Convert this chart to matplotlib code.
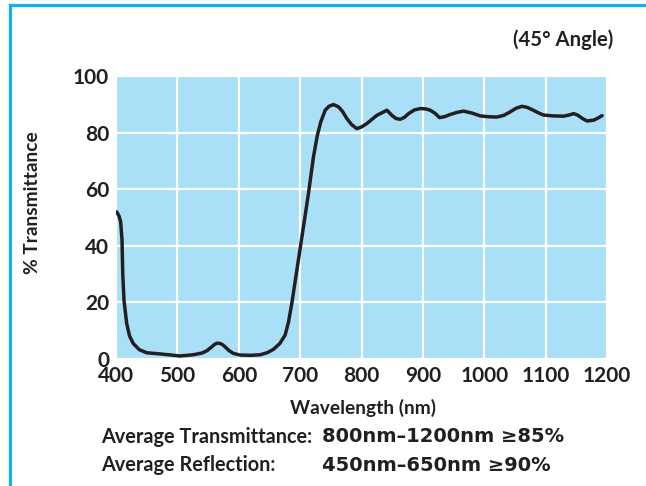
import numpy as np
import matplotlib
matplotlib.use("Agg")
import matplotlib.pyplot as plt
from matplotlib.lines import Line2D

plt.rcParams['font.family'] = ['Lato', 'DejaVu Sans']

# Данные кривой пропускания
wavelength = [401, 405, 407.6, 409.8, 411, 413, 417.4, 422, 428, 438, 450, 471.7, 490, 504,
              526, 540, 548, 556, 561.4, 565, 569.6, 574, 577.7, 584, 591, 602, 620, 634.8,
              646, 656.5, 667, 675.6, 681, 686.5, 693, 700, 707, 713.6, 721.7, 728, 733.7,
              740.8, 747, 754.4, 762.5, 769, 776, 784, 792.4, 800, 808.7, 825, 841.4, 849.5,
              856, 863, 870, 876.6, 886, 895.7, 904, 912, 920, 927, 935, 944.6, 955, 966.3,
              980, 993.5, 1007, 1020.7, 1032, 1042, 1052, 1061.5, 1070, 1080, 1088, 1096.7,
              1112, 1129, 1138, 1145.7, 1152, 1160, 1167.5, 1178.3, 1185, 1192]
transmittance = [52.0, 50.5, 48.5, 42, 30, 20.8, 12.6, 8.2, 5.5, 3.3, 2.2, 1.8, 1.4, 1.06,
                 1.5, 2.1, 2.9, 4.3, 5.3, 5.6, 5.5, 5.0, 4.3, 3.0, 2.0, 1.4, 1.3, 1.5,
                 2.2, 3.4, 5.5, 8.5, 13, 19.7, 29, 39, 49, 58.5, 71.4, 79, 83.8,
                 87.9, 89.3, 89.9, 89.1, 87.5, 85, 82.8, 81.4, 82.0, 83.2, 86.1, 87.9, 86.1,
                 85.0, 84.7, 85.4, 86.7, 88.0, 88.5, 88.4, 87.9, 86.8, 85.3, 85.6, 86.4, 87.1, 87.6,
                 86.9, 85.9, 85.6, 85.5, 86.1, 87.3, 88.6, 89.3, 88.9, 87.9, 87.0, 86.2,
                 85.9, 85.8, 86.2, 86.7, 86.2, 85.0, 84.1, 84.4, 85.1, 86.0]

x_ticks = [400, 500, 600, 700, 800, 900, 1000, 1100, 1200]
y_ticks = [0, 20, 40, 60, 80, 100]

txt_color = '#231f20'

fig = plt.figure(figsize=(6.46, 4.86), dpi=100)
ax = fig.add_axes([116 / 646, 1 - 359 / 486, 491 / 646, 283 / 486])
ax.set_facecolor('#aadff8')

ax.plot(wavelength, transmittance, color=txt_color, linewidth=2.5,
        solid_joinstyle='round', solid_capstyle='round')

ax.set_xlim(400, 1200)
ax.set_ylim(0, 100)
ax.set_xticks(x_ticks)
ax.set_yticks(y_ticks)
ax.grid(True, color='white', linewidth=1.6)
ax.set_axisbelow(True)
for s in ax.spines.values():
    s.set_visible(False)
ax.tick_params(length=0, labelsize=15, colors=txt_color)
ax.tick_params(axis='x', pad=5)
ax.tick_params(axis='y', pad=5)
for lbl in ax.get_xticklabels() + ax.get_yticklabels():
    lbl.set_fontweight('bold')

# подписи осей
fig.text(363 / 646, 1 - 408 / 486, 'Wavelength (nm)', ha='center', va='center',
         fontsize=13.8, fontweight='bold', color=txt_color)
fig.text(33 / 646, 1 - 203 / 486, '% Transmittance', ha='center', va='center', rotation=90,
         fontsize=13.8, fontweight='bold', color=txt_color)

fig.text(613 / 646, 1 - 40 / 486, '(45° Angle)', ha='right', va='center',
         fontsize=14.6, fontweight='bold', color=txt_color)

fig.text(101 / 646, 1 - 437 / 486, 'Average Transmittance:', ha='left', va='center',
         fontsize=14.3, fontweight='bold', color=txt_color)
fig.text(322 / 646, 1 - 437 / 486, '800nm–1200nm ≥85%', ha='left', va='center',
         fontsize=14, fontweight='bold', family='DejaVu Sans', color=txt_color)
fig.text(101 / 646, 1 - 465 / 486, 'Average Reflection:', ha='left', va='center',
         fontsize=14.3, fontweight='bold', color=txt_color)
fig.text(322 / 646, 1 - 465 / 486, '450nm–650nm ≥90%', ha='left', va='center',
         fontsize=14, fontweight='bold', family='DejaVu Sans', color=txt_color)

# синяя рамка слева и сверху
fig.add_artist(Line2D([9.5 / 646, 9.5 / 646], [0, 1 - 5 / 486], color='#0cb4ef', linewidth=2.3,
                      transform=fig.transFigure))
fig.add_artist(Line2D([9.5 / 646, 1], [1 - 5 / 486, 1 - 5 / 486], color='#0cb4ef', linewidth=2.3,
                      transform=fig.transFigure))

fig.savefig('out.png', dpi=100)
